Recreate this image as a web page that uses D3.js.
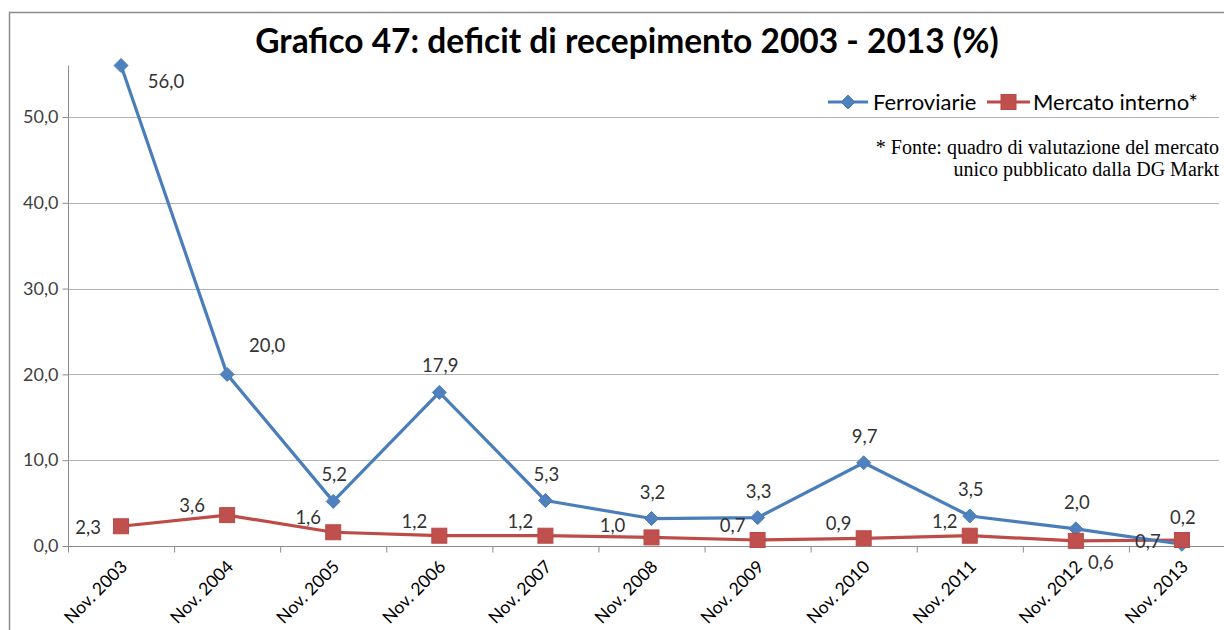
<!DOCTYPE html>
<html>
<head>
<meta charset="utf-8">
<script src="https://cdn.jsdelivr.net/npm/d3@7"></script>
<style>
  html, body { margin: 0; padding: 0; background: #fff; }
  svg { display: block; }
</style>
</head>
<body>
<div id="chart"></div>
<script>
// dati
const anni = ['Nov. 2003','Nov. 2004','Nov. 2005','Nov. 2006','Nov. 2007','Nov. 2008',
              'Nov. 2009','Nov. 2010','Nov. 2011','Nov. 2012','Nov. 2013'];
const ferroviarie = [56.0, 20.0, 5.2, 17.9, 5.3, 3.2, 3.3, 9.7, 3.5, 2.0, 0.2];
const mercatoInterno = [2.3, 3.6, 1.6, 1.2, 1.2, 1.0, 0.7, 0.9, 1.2, 0.6, 0.7];
const yTicks = [0, 10, 20, 30, 40, 50];

const titolo = 'Grafico 47: deficit di recepimento 2003 - 2013 (%)';
const nota = ['* Fonte: quadro di valutazione del mercato', 'unico pubblicato dalla DG Markt'];

const W = 1224, H = 630;
const it = d3.formatLocale({decimal: ',', thousands: '.', grouping: [3], currency: ['€','']});
const fmt = it.format('.1f');

const svg = d3.select('#chart').append('svg')
  .attr('width', W).attr('height', H)
  .style('font-family', 'Lato, "Open Sans", sans-serif');

// cornice
svg.append('rect')
  .attr('x', 9.5).attr('y', 12.5)
  .attr('width', W + 20).attr('height', H + 20)
  .attr('fill', '#fff').attr('stroke', '#8c8c8c').attr('stroke-width', 1.5);

// titolo
svg.append('text')
  .attr('x', 627).attr('y', 53)
  .attr('text-anchor', 'middle')
  .attr('font-size', 33.5).attr('font-weight', 700)
  .attr('fill', '#000')
  .text(titolo);

const x = d3.scaleBand().domain(anni).range([68, 1235]);
const y = d3.scaleLinear().domain([0, 56]).range([546, 65.5]);
const cx = d => x(d) + x.bandwidth() / 2;

// griglia
svg.append('g').selectAll('line')
  .data(yTicks.filter(t => t > 0))
  .join('line')
  .attr('x1', 68).attr('x2', 1219)
  .attr('y1', d => Math.round(y(d)) + 0.5).attr('y2', d => Math.round(y(d)) + 0.5)
  .attr('stroke', '#b3b3b3').attr('stroke-width', 1.2);

// asse y
const yAxis = svg.append('g')
  .attr('transform', 'translate(68.5,0)')
  .call(d3.axisLeft(y).tickValues(yTicks).tickFormat(fmt).tickSize(6).tickPadding(4));
yAxis.select('.domain').attr('stroke', '#8c8c8c').attr('d', `M0,${y(56)}V${y(0)}`);
yAxis.selectAll('.tick line').attr('stroke', '#8c8c8c');
yAxis.selectAll('.tick text')
  .attr('font-family', 'Lato, sans-serif').attr('font-size', 18).attr('fill', '#404040');

// asse x
const xAxis = svg.append('g')
  .attr('transform', `translate(0,${Math.round(y(0)) + 0.5})`);
xAxis.append('line')
  .attr('x1', 68).attr('x2', W)
  .attr('stroke', '#8c8c8c').attr('stroke-width', 1.2);
xAxis.selectAll('line.tk')
  .data(anni)
  .join('line').attr('class', 'tk')
  .attr('x1', d => x(d) + 0.5).attr('x2', d => x(d) + 0.5)
  .attr('y1', 0).attr('y2', 6)
  .attr('stroke', '#8c8c8c');
xAxis.selectAll('text')
  .data(anni)
  .join('text')
  .attr('transform', d => `translate(${cx(d) - 2},${12}) rotate(-45)`)
  .attr('text-anchor', 'end')
  .attr('dy', '0.75em')
  .attr('font-size', 17.5).attr('fill', '#000')
  .text(d => d);

const line = d3.line().x((d, i) => cx(anni[i])).y(d => y(d));

const blu = '#4a7ebb', bluMk = '#4f81bd';
const rosso = '#be4b48', rossoMk = '#c0504d';

// Mercato interno
svg.append('path').datum(mercatoInterno)
  .attr('d', line).attr('fill', 'none')
  .attr('stroke', rosso).attr('stroke-width', 3.2).attr('stroke-linejoin', 'round');

// Ferroviarie
svg.append('path').datum(ferroviarie)
  .attr('d', line).attr('fill', 'none')
  .attr('stroke', blu).attr('stroke-width', 3.2).attr('stroke-linejoin', 'round');

const diamond = d3.symbol().type(d3.symbolDiamond2).size(125);
svg.append('g').selectAll('path')
  .data(ferroviarie)
  .join('path')
  .attr('d', diamond)
  .attr('transform', (d, i) => `translate(${cx(anni[i])},${y(d)})`)
  .attr('fill', bluMk).attr('stroke', blu).attr('stroke-width', 1);

svg.append('g').selectAll('rect')
  .data(mercatoInterno)
  .join('rect')
  .attr('x', (d, i) => cx(anni[i]) - 7.5)
  .attr('y', d => y(d) - 7.5)
  .attr('width', 15).attr('height', 15)
  .attr('fill', rossoMk).attr('stroke', '#b84a47').attr('stroke-width', 1);

// etichette dati (spostamenti come nel grafico Excel)
const spostaBlu = {0: [45, 22], 1: [40, -22]};
const spostaRosso = {0: [-33, 8], 1: [-35, -3], 5: [-39, -5], 9: [25, 28], 10: [-34, 8]};

svg.append('g').selectAll('text')
  .data(ferroviarie)
  .join('text')
  .attr('x', (d, i) => cx(anni[i]) + (spostaBlu[i] ? spostaBlu[i][0] : 1))
  .attr('y', (d, i) => y(d) + (spostaBlu[i] ? spostaBlu[i][1] : -20))
  .attr('text-anchor', 'middle')
  .attr('font-size', 18.5).attr('fill', '#333')
  .text(d => fmt(d));

svg.append('g').selectAll('text')
  .data(mercatoInterno)
  .join('text')
  .attr('x', (d, i) => cx(anni[i]) + (spostaRosso[i] ? spostaRosso[i][0] : -25))
  .attr('y', (d, i) => y(d) + (spostaRosso[i] ? spostaRosso[i][1] : -8))
  .attr('text-anchor', 'middle')
  .attr('font-size', 18.5).attr('fill', '#333')
  .text(d => fmt(d));

// legenda
const leg = svg.append('g').attr('transform', 'translate(0,102)');
leg.append('line').attr('x1', 828).attr('x2', 868).attr('stroke', blu).attr('stroke-width', 3.2);
leg.append('path').attr('d', diamond).attr('transform', 'translate(848,0)')
  .attr('fill', bluMk).attr('stroke', blu);
leg.append('text').attr('x', 873).attr('y', 7.5).attr('font-size', 22).attr('fill', '#000').text('Ferroviarie');
leg.append('line').attr('x1', 987).attr('x2', 1030).attr('stroke', rosso).attr('stroke-width', 3.2);
leg.append('rect').attr('x', 1001).attr('y', -7.5).attr('width', 15).attr('height', 15)
  .attr('fill', rossoMk).attr('stroke', '#b84a47');
leg.append('text').attr('x', 1033).attr('y', 7.5).attr('font-size', 22).attr('fill', '#000').text('Mercato interno*');

// nota
svg.append('g').selectAll('text')
  .data(nota)
  .join('text')
  .attr('x', 1219)
  .attr('y', (d, i) => 154 + i * 22)
  .attr('text-anchor', 'end')
  .attr('font-family', '"Liberation Serif", "DejaVu Serif", serif')
  .attr('font-size', 20).attr('fill', '#000')
  .text(d => d);
</script>
</body>
</html>
